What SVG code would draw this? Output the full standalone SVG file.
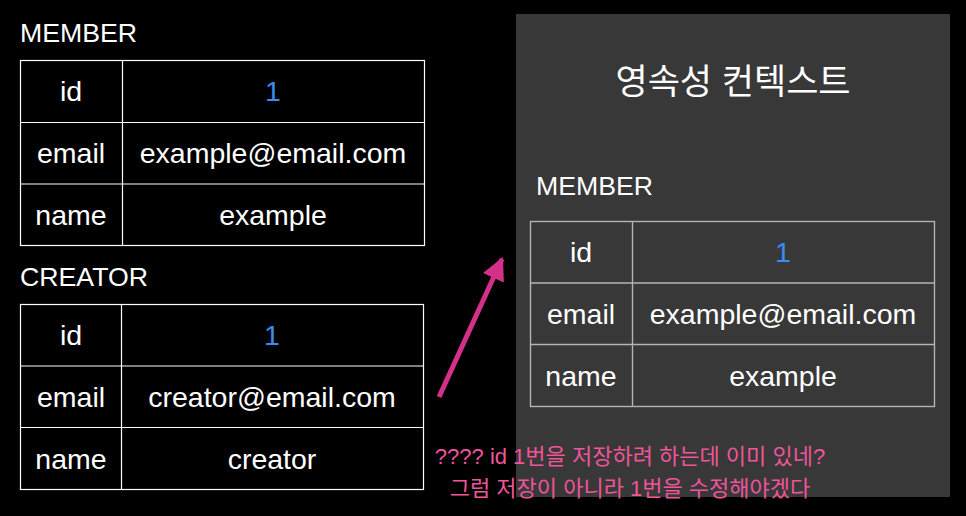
<svg xmlns="http://www.w3.org/2000/svg" width="966" height="516" viewBox="0 0 966 516">
<style>
.lbl{font-family:"Liberation Sans","Noto Sans CJK KR",sans-serif;font-size:26.7px;fill:#fff}
.cell{font-family:"Liberation Sans","Noto Sans CJK KR",sans-serif;font-size:28.5px;fill:#fff;text-anchor:middle}
.blue{fill:#3b8cf2}
.grid{fill:none;stroke:#fff;stroke-width:1.2}
.grid2{fill:none;stroke:#b4b4b4;stroke-width:1.4}
.title{font-family:"Liberation Sans","Noto Sans CJK KR",sans-serif;font-size:35px;fill:#fff;text-anchor:middle}
.note{font-family:"Liberation Sans","Noto Sans CJK KR",sans-serif;font-size:22px;fill:#f0549a;text-anchor:middle}
</style>
<defs>
<marker id="ah" viewBox="0 0 10 10" refX="9" refY="5" markerWidth="4.6" markerHeight="4.6" markerUnits="strokeWidth" orient="auto">
<path d="M0,0 L10,5 L0,10 z" fill="#d3308a"/>
</marker>
</defs>
<rect x="0" y="0" width="966" height="516" fill="#000"/>
<g id="panel">
<rect x="516" y="14" width="434" height="483" fill="#383838"/>
<text class="title" x="733" y="94">영속성 컨텍스트</text>
</g>
<g id="member-table">
<text class="lbl" x="20" y="42">MEMBER</text>
<rect class="grid" x="20.5" y="60.5" width="404" height="185"/>
<line class="grid" x1="122.5" y1="60.5" x2="122.5" y2="245.5"/>
<line class="grid" x1="20.5" y1="122.5" x2="424.5" y2="122.5"/>
<line class="grid" x1="20.5" y1="184" x2="424.5" y2="184"/>
<text class="cell" x="71" y="101">id</text>
<text class="cell blue" x="273" y="101">1</text>
<text class="cell" x="71" y="163">email</text>
<text class="cell" x="273" y="163">example@email.com</text>
<text class="cell" x="71" y="225">name</text>
<text class="cell" x="273" y="225">example</text>
</g>
<g id="creator-table">
<text class="lbl" x="20" y="286">CREATOR</text>
<rect class="grid" x="20.5" y="304.5" width="403" height="185"/>
<line class="grid" x1="121.5" y1="304.5" x2="121.5" y2="489.5"/>
<line class="grid" x1="20.5" y1="366" x2="423.5" y2="366"/>
<line class="grid" x1="20.5" y1="427.5" x2="423.5" y2="427.5"/>
<text class="cell" x="71" y="345">id</text>
<text class="cell blue" x="272" y="345">1</text>
<text class="cell" x="71" y="407">email</text>
<text class="cell" x="272" y="407">creator@email.com</text>
<text class="cell" x="71" y="469">name</text>
<text class="cell" x="272" y="469">creator</text>
</g>
<g id="context-member-table">
<text class="lbl" x="536" y="195">MEMBER</text>
<rect class="grid2" x="530.5" y="221.5" width="404" height="185"/>
<line class="grid2" x1="632.5" y1="221.5" x2="632.5" y2="406.5"/>
<line class="grid2" x1="530.5" y1="283" x2="934.5" y2="283"/>
<line class="grid2" x1="530.5" y1="344.5" x2="934.5" y2="344.5"/>
<text class="cell" x="581" y="262">id</text>
<text class="cell blue" x="783" y="262">1</text>
<text class="cell" x="581" y="324">email</text>
<text class="cell" x="783" y="324">example@email.com</text>
<text class="cell" x="581" y="386">name</text>
<text class="cell" x="783" y="386">example</text>
</g>
<g id="connectors">
<line x1="439" y1="397" x2="502" y2="259" stroke="#d3308a" stroke-width="5" marker-end="url(#ah)"/>
</g>
<g id="note">
<text class="note" x="630" y="464">???? id 1번을 저장하려 하는데 이미 있네?</text>
<text class="note" x="630" y="496">그럼 저장이 아니라 1번을 수정해야겠다</text>
</g>
</svg>
